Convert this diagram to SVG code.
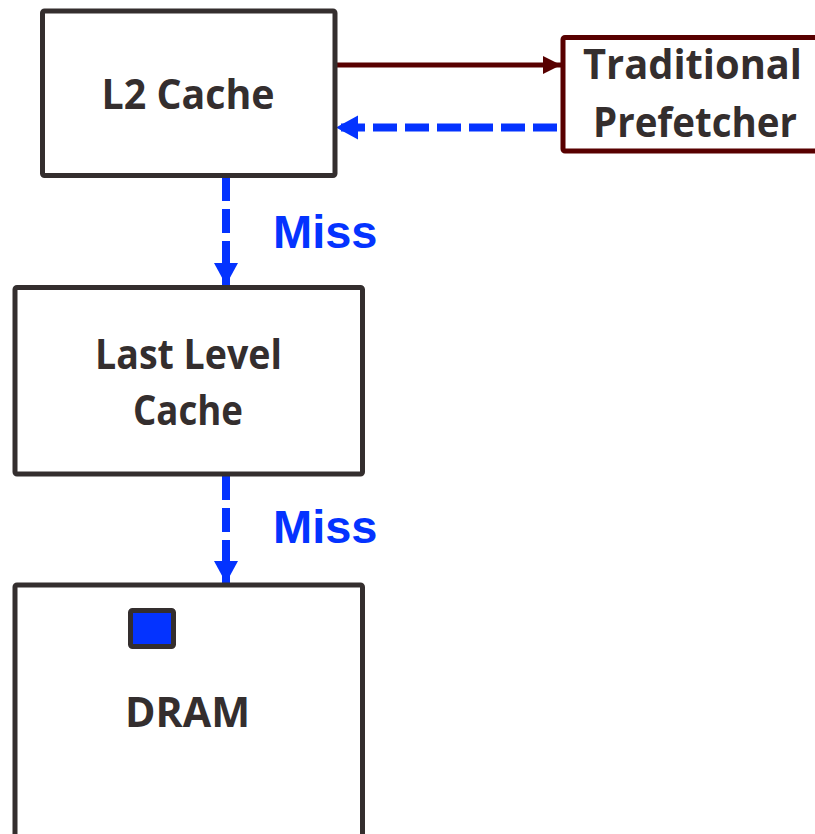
<svg xmlns="http://www.w3.org/2000/svg" width="815" height="834" viewBox="0 0 815 834">
<defs>
<style>
.box{fill:#fff;stroke:#342e2e;stroke-width:5;stroke-linejoin:round}
.pbox{fill:#fff;stroke:#580000;stroke-width:5;stroke-linejoin:round}
.lbl{font-family:"Open Sans",Lato,"Liberation Sans",sans-serif;font-weight:bold;font-size:42px;fill:#342e2e;text-anchor:middle}
.miss{font-family:"Liberation Sans",Arial,sans-serif;font-weight:bold;font-size:47px;fill:#0433ff}
.dash{stroke:#0433ff;stroke-width:8;fill:none;stroke-dasharray:24 8}
</style>
<marker id="blueHead" markerUnits="userSpaceOnUse" markerWidth="24" markerHeight="26" refX="22" refY="12" orient="auto">
<path d="M0,0 L22,12 L0,24 Z" fill="#0433ff"/>
</marker>
<marker id="redHead" markerUnits="userSpaceOnUse" markerWidth="20" markerHeight="20" refX="18" refY="9" orient="auto">
<path d="M0,0 L18,9 L0,18 Z" fill="#580000"/>
</marker>
</defs>
<rect width="815" height="834" fill="#fff"/>
<g id="connectors">
<line x1="337" y1="65" x2="561" y2="65" stroke="#580000" stroke-width="5" marker-end="url(#redHead)"/>
<line x1="557" y1="127.5" x2="336" y2="127.5" class="dash" marker-end="url(#blueHead)"/>
<line x1="226" y1="177" x2="226" y2="285" class="dash" marker-end="url(#blueHead)"/>
<line x1="226" y1="476" x2="226" y2="583" class="dash" marker-end="url(#blueHead)"/>
</g>
<g id="l2">
<rect class="box" x="42.5" y="11" width="292.5" height="164.5" rx="2"/>
<text class="lbl" x="188" y="109" textLength="173" lengthAdjust="spacingAndGlyphs">L2 Cache</text>
</g>
<g id="prefetcher">
<rect class="pbox" x="563" y="37.5" width="270" height="113.5" rx="2"/>
<text class="lbl" x="692.5" y="79" textLength="219" lengthAdjust="spacingAndGlyphs">Traditional</text>
<text class="lbl" x="695" y="137" textLength="204" lengthAdjust="spacingAndGlyphs">Prefetcher</text>
</g>
<g id="llc">
<rect class="box" x="15" y="287.5" width="347.5" height="186.5" rx="2"/>
<text class="lbl" x="188.5" y="369" textLength="187" lengthAdjust="spacingAndGlyphs">Last Level</text>
<text class="lbl" x="188" y="425" textLength="110" lengthAdjust="spacingAndGlyphs">Cache</text>
</g>
<g id="miss1">
<text class="miss" x="273" y="248">Miss</text>
</g>
<g id="miss2">
<text class="miss" x="273" y="543">Miss</text>
</g>
<g id="dram">
<rect class="box" x="15" y="585" width="347.5" height="280" rx="2"/>
<rect x="130.5" y="610.5" width="43" height="36" rx="2" fill="#0433ff" stroke="#342e2e" stroke-width="5"/>
<text class="lbl" x="187.5" y="727" textLength="125" lengthAdjust="spacingAndGlyphs">DRAM</text>
</g>
</svg>
